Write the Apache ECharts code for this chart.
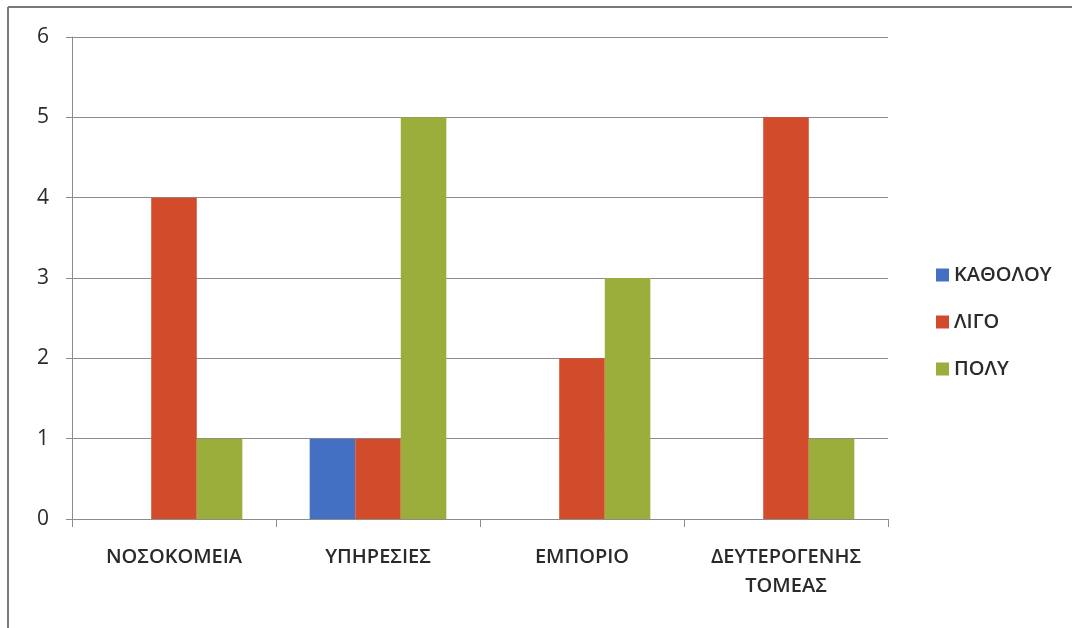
<!DOCTYPE html>
<html>
<head>
<meta charset="utf-8">
<script src="https://cdn.jsdelivr.net/npm/echarts@6/dist/echarts.min.js"></script>
<style>
  html, body { margin: 0; padding: 0; background: #ffffff; }
  #chart { width: 1072px; height: 628px; }
</style>
</head>
<body>
<div id="chart"></div>
<script>
// Sectors on the horizontal axis
const categories = ['ΝΟΣΟΚΟΜΕΙΑ', 'ΥΠΗΡΕΣΙΕΣ', 'ΕΜΠΟΡΙΟ', 'ΔΕΥΤΕΡΟΓΕΝΗΣ\nΤΟΜΕΑΣ'];
// Counts per answer
const seriesNames = ['ΚΑΘΟΛΟΥ', 'ΛΙΓΟ', 'ΠΟΛΥ'];
const katholou = [0, 1, 0, 0];
const ligo = [4, 1, 2, 5];
const poly = [1, 5, 3, 1];
const yTicks = [0, 1, 2, 3, 4, 5, 6];

const colors = ['#4470c4', '#d24b2b', '#9bad3a'];
const font = '"Open Sans", "DejaVu Sans", sans-serif';

const chart = echarts.init(document.getElementById('chart'));
chart.setOption({
  animation: false,
  backgroundColor: '#ffffff',
  color: colors,
  textStyle: { fontFamily: font },
  graphic: [
    { type: 'line', shape: { x1: 8, y1: 7, x2: 1072, y2: 7 }, style: { stroke: '#7a7a7a', lineWidth: 2 } },
    { type: 'line', shape: { x1: 8, y1: 7, x2: 8, y2: 628 }, style: { stroke: '#7a7a7a', lineWidth: 2 } }
  ],
  grid: { left: 72, right: 184, top: 37, bottom: 109, containLabel: false },
  legend: {
    orient: 'vertical',
    left: 931,
    top: 258,
    itemWidth: 13,
    itemHeight: 13,
    itemGap: 23,
    icon: 'rect',
    textStyle: { fontFamily: font, fontSize: 20, fontWeight: 600, color: '#2a2a2a', lineHeight: 24 },
    data: seriesNames
  },
  xAxis: {
    type: 'category',
    data: categories,
    axisLine: { lineStyle: { color: '#8c8c8c', width: 1 } },
    axisTick: { show: true, interval: 0, length: 8, lineStyle: { color: '#8c8c8c' } },
    axisLabel: { interval: 0, fontFamily: font, fontSize: 20, fontWeight: 600, color: '#2a2a2a', margin: 24, lineHeight: 29 }
  },
  yAxis: {
    type: 'value',
    min: yTicks[0],
    max: yTicks[yTicks.length - 1],
    interval: 1,
    axisLine: { show: true, lineStyle: { color: '#8c8c8c', width: 1 } },
    axisTick: { show: true, length: 6, lineStyle: { color: '#8c8c8c' } },
    axisLabel: { fontFamily: font, fontSize: 21, color: '#2a2a2a', margin: 23 },
    splitLine: { lineStyle: { color: '#8c8c8c', width: 1 } }
  },
  series: [
    { name: seriesNames[0], type: 'bar', data: katholou, barGap: '0%', barCategoryGap: '33%' },
    { name: seriesNames[1], type: 'bar', data: ligo, barGap: '0%', barCategoryGap: '33%' },
    { name: seriesNames[2], type: 'bar', data: poly, barGap: '0%', barCategoryGap: '33%' }
  ]
});
</script>
</body>
</html>
